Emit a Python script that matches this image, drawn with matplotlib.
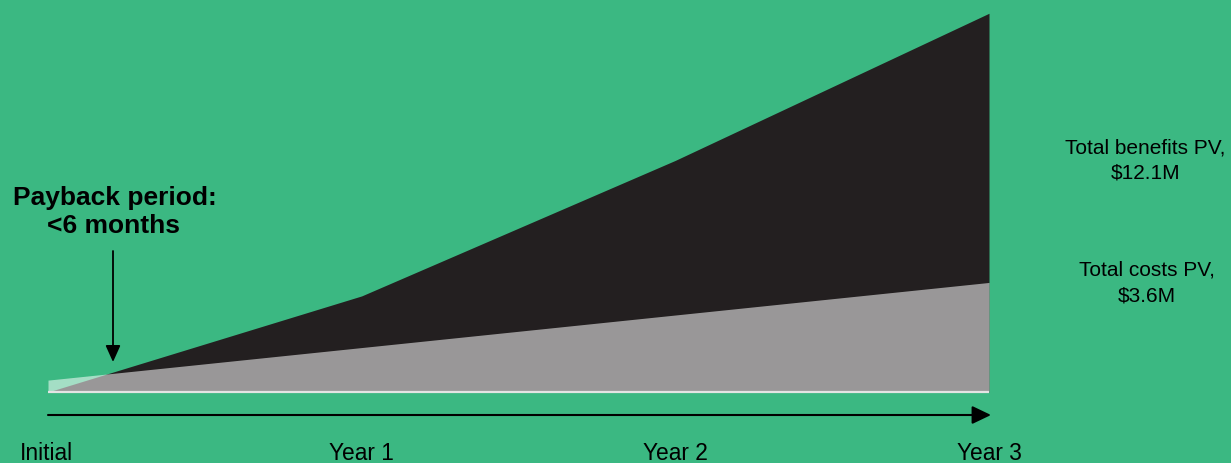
import matplotlib
matplotlib.use("Agg")
import matplotlib.pyplot as plt
import numpy as np

periods = ["Initial", "Year 1", "Year 2", "Year 3"]
benefits = [0.0, 3.07, 7.4, 12.1]      # cumulative benefits, $M
costs = [0.38, 1.42, 2.46, 3.5]        # cumulative costs, $M
benefit_lines = ["Total benefits PV,", "$12.1M"]
cost_lines = ["Total costs PV,", "$3.6M"]
payback_lines = ["Payback period:", "<6 months"]

BG = "#3bb882"
plt.rcParams["font.family"] = ["Liberation Sans", "DejaVu Sans"]

fig = plt.figure(figsize=(12.31, 4.63), dpi=100, facecolor=BG)
W, H = 1231, 463
x0px, x3px = 48, 989
base_px = 392
ppm = 31.3
ytop = 12.2
ax = fig.add_axes([x0px / W, (H - base_px) / H, (x3px - x0px) / W, ytop * ppm / H])
ax.set_facecolor("none")
x = np.arange(len(periods))
ax.fill_between(x, 0, benefits, color="#231f20", lw=0)
ax.fill_between(x, 0, costs, color="white", alpha=0.54, lw=0)
ax.plot([0, 3], [0, 0], color="#e4e4e4", lw=1.6, solid_capstyle="butt", clip_on=False)
ax.set_xlim(0, 3)
ax.set_ylim(0, ytop)
ax.axis("off")

def fy(px):
    return 1 - px / H

# bottom time arrow
ya = (base_px - 415) / ppm
ax.annotate("", xy=(3.0 + 2 / ((x3px - x0px) / 3), ya), xytext=(0, ya), xycoords="data",
            annotation_clip=False,
            arrowprops=dict(arrowstyle="-|>,head_length=1.15,head_width=0.55", color="black", lw=1.5,
                            shrinkA=0, shrinkB=0))
label_x = [46.5, 361, 675, 989.5]
for px, p in zip(label_x, periods):
    fig.text(px / W, fy(460.5), p, ha="center", va="baseline", fontsize=16.4)

# payback arrow
xp = (113 - x0px) / ((x3px - x0px) / 3)
ax.annotate("", xy=(xp, (base_px - 362) / ppm), xytext=(xp, (base_px - 251) / ppm),
            annotation_clip=False,
            arrowprops=dict(arrowstyle="-|>,head_length=1.0,head_width=0.45", color="black", lw=1.3,
                            shrinkA=0, shrinkB=0))
for (px, py), t in zip([(114.5, 205), (113.5, 233)], payback_lines):
    fig.text(px / W, fy(py), t, ha="center", va="baseline", fontsize=19, fontweight="bold")

for (px, py), t in zip([(1145, 154), (1146, 178.3)], benefit_lines):
    fig.text(px / W, fy(py), t, ha="center", va="baseline", fontsize=15)
for (px, py), t in zip([(1147, 276), (1147, 301.7)], cost_lines):
    fig.text(px / W, fy(py), t, ha="center", va="baseline", fontsize=15)

fig.savefig("out.png", dpi=100, facecolor=BG)
